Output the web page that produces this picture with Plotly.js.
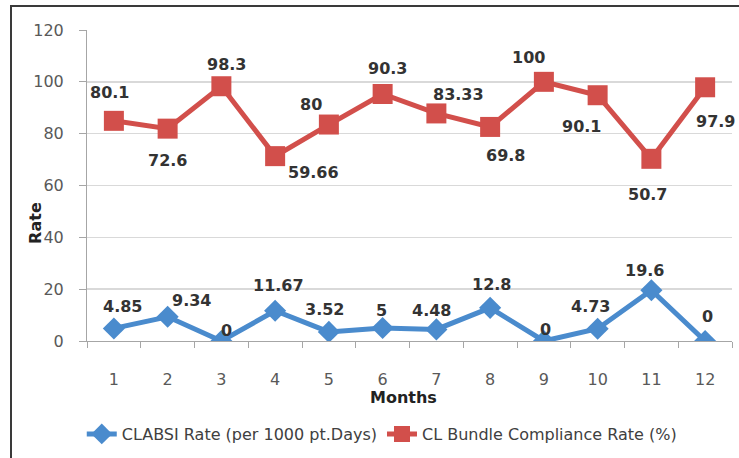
<!DOCTYPE html>
<html><head><meta charset="utf-8">
<script src="https://cdn.plot.ly/plotly-3.0.1.min.js"></script>
<style>
html,body{margin:0;padding:0;background:#fff;}
#wrap{position:relative;width:739px;height:458px;overflow:hidden;}
#chart{width:739px;height:458px;}
#frame{position:absolute;left:10px;top:5px;width:740px;height:460px;border-left:2px solid #3a3a3a;border-top:2px solid #3a3a3a;pointer-events:none;}
</style></head>
<body>
<div id="wrap"><div id="chart"></div><div id="frame"></div></div>
<script>
// Data
const months = ['1','2','3','4','5','6','7','8','9','10','11','12'];
const clabsiRate = [4.85, 9.34, 0, 11.67, 3.52, 5, 4.48, 12.8, 0, 4.73, 19.6, 0];
const bundleCompliance = [80.1, 72.6, 98.3, 59.66, 80, 90.3, 83.33, 69.8, 100, 90.1, 50.7, 97.9];
const seriesNames = ['CLABSI Rate (per 1000 pt.Days)', 'CL Bundle Compliance Rate (%)'];
const yTicks = [0, 20, 40, 60, 80, 100, 120];

// Styles / label offsets (pixels)
const blue = '#4a8bcd', red = '#d24f4b';
const blueShift = [[9,22],[24,16],[5,11],[3,25],[-4,22],[-1,18],[-5,19],[1,23],[2,12],[-7,22],[-7,20],[2,25]];
const redShift = [[-4,28],[0,-32],[5,22],[38,-16],[-18,20],[5,26],[22,19],[15,-29],[-15,24],[-16,-31],[-4,-36],[10,-34]];
const font = '"DejaVu Sans", sans-serif';

const traces = [
  {x: months, y: clabsiRate, name: seriesNames[0], type: 'scatter', mode: 'lines+markers',
   stackgroup: 'one', fill: 'none',
   line: {color: blue, width: 5}, marker: {symbol: 'diamond', size: 17, color: blue}},
  {x: months, y: bundleCompliance, name: seriesNames[1], type: 'scatter', mode: 'lines+markers',
   stackgroup: 'one', fill: 'none',
   line: {color: red, width: 5}, marker: {symbol: 'square', size: 20, color: red}}
];

const labelFont = {family: font, size: 16, color: '#333', weight: 'bold'};
const annotations = [];
months.forEach((m, i) => {
  annotations.push({x: i, y: clabsiRate[i], text: String(clabsiRate[i]), showarrow: false,
    xanchor: 'center', yanchor: 'middle',
    xshift: blueShift[i][0], yshift: blueShift[i][1], font: labelFont});
  annotations.push({x: i, y: clabsiRate[i] + bundleCompliance[i], text: String(bundleCompliance[i]), showarrow: false,
    xanchor: 'center', yanchor: 'middle',
    xshift: redShift[i][0], yshift: redShift[i][1], font: labelFont});
});
annotations.push({xref: 'paper', yref: 'paper', x: -0.081, y: 0.379, text: 'Rate', textangle: -90,
  xanchor: 'center', yanchor: 'middle',
  showarrow: false, font: {family: font, size: 16, color: '#222', weight: 'bold'}});
annotations.push({xref: 'paper', yref: 'paper', x: 0.49, y: -0.182, text: 'Months',
  xanchor: 'center', yanchor: 'middle',
  showarrow: false, font: {family: font, size: 16, color: '#222', weight: 'bold'}});

const layout = {
  width: 739, height: 458,
  margin: {l: 87, r: 7, t: 30, b: 114},
  paper_bgcolor: '#fff', plot_bgcolor: '#fff',
  showlegend: true,
  legend: {orientation: 'h', x: 0.457, xanchor: 'center', y: -0.299, yanchor: 'middle',
    font: {family: font, size: 16, color: '#404040'}},
  xaxis: {type: 'category', range: [-0.5, 11.5], tickson: 'boundaries', ticks: 'outside', ticklen: 6, tickcolor: '#a6a6a6',
    showline: true, linecolor: '#a6a6a6', linewidth: 1, showgrid: false, zeroline: false,
    ticklabelstandoff: 24,
    tickfont: {family: font, size: 16, color: '#595959'}, fixedrange: true},
  yaxis: {range: [0, 120], tickvals: yTicks, ticks: 'outside', ticklen: 7, tickcolor: '#a6a6a6',
    showline: true, linecolor: '#a6a6a6', linewidth: 1, showgrid: true, gridcolor: '#d9d9d9', gridwidth: 1.5,
    zeroline: false, ticklabelstandoff: 12,
    tickfont: {family: font, size: 16, color: '#595959'}, fixedrange: true},
  annotations: annotations
};

Plotly.newPlot('chart', traces, layout, {displayModeBar: false, staticPlot: true});
</script>
</body></html>
